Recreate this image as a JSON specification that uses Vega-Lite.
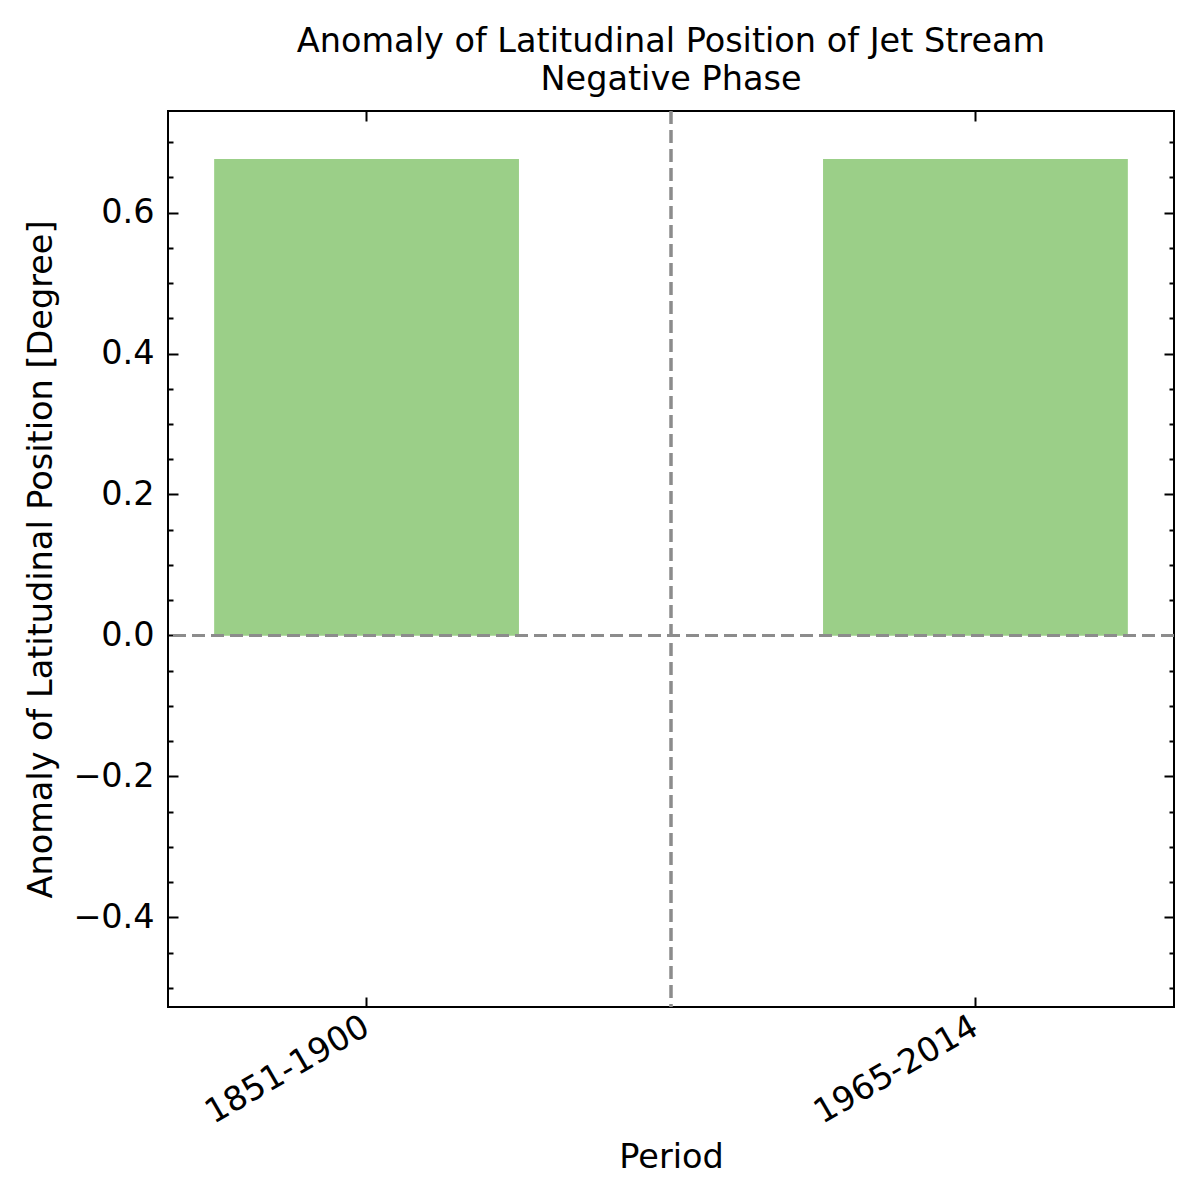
{
  "$schema": "https://vega.github.io/schema/vega-lite/v6.json",
  "width": 1006,
  "height": 896,
  "autosize": {"type": "none"},
  "padding": {"left": 168, "top": 111, "right": 26, "bottom": 193},
  "background": "white",
  "config": {
    "view": {"stroke": "black", "strokeWidth": 2},
    "font": "DejaVu Sans",
    "axis": {
      "domain": false,
      "grid": false,
      "tickColor": "black",
      "tickWidth": 2,
      "labelFont": "DejaVu Sans",
      "labelFontSize": 33.5,
      "labelColor": "black",
      "labelLimit": 0,
      "titleFont": "DejaVu Sans",
      "titleFontSize": 33.5,
      "titleFontWeight": "normal",
      "titleColor": "black"
    }
  },
  "title": {
    "text": ["Anomaly of Latitudinal Position of Jet Stream", "Negative Phase"],
    "anchor": "middle",
    "font": "DejaVu Sans",
    "fontSize": 33.5,
    "fontWeight": "normal",
    "color": "black",
    "lineHeight": 38,
    "offset": 12
  },
  "data": {
    "values": [
      {"period": "1851-1900", "anomaly": 0.676},
      {"period": "1965-2014", "anomaly": 0.676}
    ]
  },
  "resolve": {
    "scale": {"x": "independent"},
    "axis": {"x": "independent", "y": "independent"}
  },
  "layer": [
    {
      "mark": {"type": "bar", "color": "#9bcf88"},
      "encoding": {
        "x": {
          "field": "period",
          "type": "nominal",
          "sort": null,
          "scale": {"paddingInner": 0.5, "paddingOuter": 0.0762},
          "axis": {
            "orient": "bottom",
            "title": "Period",
            "tickSize": -10,
            "labelAngle": -30,
            "labelAlign": "right",
            "labelBaseline": "top",
            "labelPadding": 13,
            "labelOffset": -8,
            "titlePadding": 12
          }
        },
        "y": {
          "field": "anomaly",
          "type": "quantitative",
          "scale": {"domain": [-0.527, 0.744], "nice": false},
          "axis": {
            "orient": "left",
            "title": "Anomaly of Latitudinal Position [Degree]",
            "values": [-0.4, -0.2, 0, 0.2, 0.4, 0.6],
            "format": ".1f",
            "tickSize": -10,
            "labelPadding": 24,
            "titlePadding": 14
          }
        }
      }
    },
    {
      "mark": {"type": "bar", "color": "#9bcf88"},
      "encoding": {
        "x": {
          "field": "period",
          "type": "nominal",
          "sort": null,
          "scale": {"paddingInner": 0.5, "paddingOuter": 0.0762},
          "axis": {"orient": "top", "title": null, "labels": false, "tickSize": -10}
        },
        "y": {
          "field": "anomaly",
          "type": "quantitative",
          "axis": {
            "orient": "right",
            "title": null,
            "labels": false,
            "values": [-0.4, -0.2, 0, 0.2, 0.4, 0.6],
            "tickSize": -10
          }
        }
      }
    },
    {
      "mark": {"type": "rule", "color": "#8c8c8c", "strokeWidth": 3, "strokeDash": [13, 6]},
      "encoding": {
        "y": {
          "datum": 0,
          "type": "quantitative",
          "axis": {
            "orient": "left",
            "title": null,
            "labels": false,
            "values": [-0.5, -0.45, -0.35, -0.3, -0.25, -0.15, -0.1, -0.05, 0.05, 0.1, 0.15, 0.25, 0.3, 0.35, 0.45, 0.5, 0.55, 0.65, 0.7],
            "tickSize": -5
          }
        }
      }
    },
    {
      "mark": {"type": "rule", "color": "#8c8c8c", "strokeWidth": 3, "strokeDash": [13, 6]},
      "encoding": {
        "y": {
          "datum": 0,
          "type": "quantitative",
          "axis": {
            "orient": "right",
            "title": null,
            "labels": false,
            "values": [-0.5, -0.45, -0.35, -0.3, -0.25, -0.15, -0.1, -0.05, 0.05, 0.1, 0.15, 0.25, 0.3, 0.35, 0.45, 0.5, 0.55, 0.65, 0.7],
            "tickSize": -5
          }
        }
      }
    },
    {
      "mark": {"type": "rule", "color": "#8c8c8c", "strokeWidth": 3, "strokeDash": [13, 6]},
      "encoding": {
        "x": {
          "datum": 0.5,
          "type": "quantitative",
          "scale": {"domain": [-0.326, 1.326], "nice": false, "zero": false},
          "axis": null
        }
      }
    }
  ]
}
